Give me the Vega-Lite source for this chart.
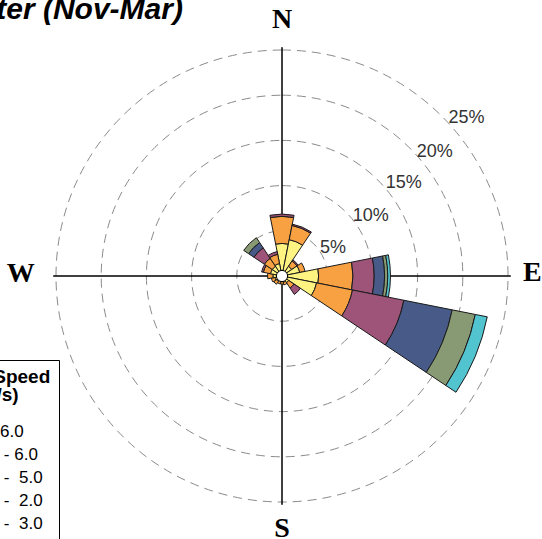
{
  "$schema": "https://vega.github.io/schema/vega-lite/v6.json",
  "autosize": "none",
  "width": 520,
  "height": 526,
  "padding": {"left": 22, "top": 13, "right": 0, "bottom": 0},
  "background": "white",
  "title": {
    "text": "Winter (Nov-Mar)",
    "anchor": "start",
    "frame": "group",
    "font": "Liberation Sans",
    "fontSize": 30,
    "fontStyle": "italic",
    "fontWeight": "bold",
    "color": "black",
    "baseline": "alphabetic",
    "offset": 0,
    "dx": -80.5,
    "dy": 43
  },
  "datasets": {
    "rings": [
      {"a0": 0, "a1": 360, "r": 5},
      {"a0": 0, "a1": 360, "r": 10},
      {"a0": 0, "a1": 360, "r": 15},
      {"a0": 0, "a1": 360, "r": 20},
      {"a0": 0, "a1": 360, "r": 25}
    ],
    "axes": [
      {"a": 0, "r": 25.3},
      {"a": 90, "r": 25.3},
      {"a": 180, "r": 25.3},
      {"a": 270, "r": 25.3}
    ],
    "petals": [
      {"a0": -11.25, "a1": 11.25, "s": "Y", "r0": 0, "r1": 3.6},
      {"a0": -11.25, "a1": 11.25, "s": "O", "r0": 3.6, "r1": 6.6},
      {"a0": -11.25, "a1": 11.25, "s": "P", "r0": 6.6, "r1": 6.85},
      {"a0": 11.25, "a1": 33.75, "s": "Y", "r0": 0, "r1": 4.1},
      {"a0": 11.25, "a1": 33.75, "s": "O", "r0": 4.1, "r1": 5.7},
      {"a0": 11.25, "a1": 33.75, "s": "P", "r0": 5.7, "r1": 5.85},
      {"a0": 33.75, "a1": 56.25, "s": "Y", "r0": 0, "r1": 1.3},
      {"a0": 33.75, "a1": 56.25, "s": "O", "r0": 1.3, "r1": 2.0},
      {"a0": 33.75, "a1": 56.25, "s": "P", "r0": 2.0, "r1": 2.15},
      {"a0": 56.25, "a1": 78.75, "s": "Y", "r0": 0, "r1": 2.0},
      {"a0": 56.25, "a1": 78.75, "s": "O", "r0": 2.0, "r1": 2.6},
      {"a0": 78.75, "a1": 101.25, "s": "Y", "r0": 0, "r1": 4.05},
      {"a0": 78.75, "a1": 101.25, "s": "O", "r0": 4.05, "r1": 7.85},
      {"a0": 78.75, "a1": 101.25, "s": "P", "r0": 7.85, "r1": 10.2},
      {"a0": 78.75, "a1": 101.25, "s": "B", "r0": 10.2, "r1": 11.35},
      {"a0": 78.75, "a1": 101.25, "s": "G", "r0": 11.35, "r1": 11.7},
      {"a0": 78.75, "a1": 101.25, "s": "C", "r0": 11.7, "r1": 12.0},
      {"a0": 101.25, "a1": 123.75, "s": "Y", "r0": 0, "r1": 3.9},
      {"a0": 101.25, "a1": 123.75, "s": "O", "r0": 3.9, "r1": 7.95},
      {"a0": 101.25, "a1": 123.75, "s": "P", "r0": 7.95, "r1": 13.75},
      {"a0": 101.25, "a1": 123.75, "s": "B", "r0": 13.75, "r1": 19.2},
      {"a0": 101.25, "a1": 123.75, "s": "G", "r0": 19.2, "r1": 21.8},
      {"a0": 101.25, "a1": 123.75, "s": "C", "r0": 21.8, "r1": 23.15},
      {"a0": 123.75, "a1": 146.25, "s": "Y", "r0": 0, "r1": 0.9},
      {"a0": 123.75, "a1": 146.25, "s": "O", "r0": 0.9, "r1": 1.6},
      {"a0": 123.75, "a1": 146.25, "s": "P", "r0": 1.6, "r1": 2.45},
      {"a0": 146.25, "a1": 168.75, "s": "Y", "r0": 0, "r1": 0.7},
      {"a0": 146.25, "a1": 168.75, "s": "O", "r0": 0.7, "r1": 1.0},
      {"a0": 168.75, "a1": 191.25, "s": "Y", "r0": 0, "r1": 0.6},
      {"a0": 168.75, "a1": 191.25, "s": "O", "r0": 0.6, "r1": 0.9},
      {"a0": 191.25, "a1": 213.75, "s": "Y", "r0": 0, "r1": 0.6},
      {"a0": 191.25, "a1": 213.75, "s": "O", "r0": 0.6, "r1": 0.9},
      {"a0": 213.75, "a1": 236.25, "s": "Y", "r0": 0, "r1": 0.7},
      {"a0": 213.75, "a1": 236.25, "s": "O", "r0": 0.7, "r1": 1.1},
      {"a0": 236.25, "a1": 258.75, "s": "Y", "r0": 0, "r1": 0.8},
      {"a0": 236.25, "a1": 258.75, "s": "O", "r0": 0.8, "r1": 1.2},
      {"a0": 258.75, "a1": 281.25, "s": "Y", "r0": 0, "r1": 1.0},
      {"a0": 258.75, "a1": 281.25, "s": "O", "r0": 1.0, "r1": 1.6},
      {"a0": 281.25, "a1": 303.75, "s": "Y", "r0": 0, "r1": 1.3},
      {"a0": 281.25, "a1": 303.75, "s": "O", "r0": 1.3, "r1": 2.1},
      {"a0": 281.25, "a1": 303.75, "s": "P", "r0": 2.1, "r1": 2.3},
      {"a0": 303.75, "a1": 326.25, "s": "Y", "r0": 0, "r1": 1.3},
      {"a0": 303.75, "a1": 326.25, "s": "O", "r0": 1.3, "r1": 2.35},
      {"a0": 303.75, "a1": 326.25, "s": "P", "r0": 2.35, "r1": 3.75},
      {"a0": 303.75, "a1": 326.25, "s": "B", "r0": 3.75, "r1": 4.45},
      {"a0": 303.75, "a1": 326.25, "s": "G", "r0": 4.45, "r1": 5.1},
      {"a0": 326.25, "a1": 348.75, "s": "Y", "r0": 0, "r1": 1.4},
      {"a0": 326.25, "a1": 348.75, "s": "O", "r0": 1.4, "r1": 2.45},
      {"a0": 326.25, "a1": 348.75, "s": "P", "r0": 2.45, "r1": 2.75}
    ],
    "calm": [{"a0": 0, "a1": 360, "r": 0.62}],
    "pct": [
      {"t": 51.7, "r": 5.36, "label": "5%"},
      {"t": 48.9, "r": 10.4, "label": "10%"},
      {"t": 47.5, "r": 15.55, "label": "15%"},
      {"t": 46.9, "r": 20.4, "label": "20%"},
      {"t": 46.2, "r": 25.5, "label": "25%"}
    ],
    "compass": [
      {"t": 0, "r": 28.35, "label": "N"},
      {"t": 89.3, "r": 27.7, "label": "E"},
      {"t": 180, "r": 28.0, "label": "S"},
      {"t": 270.4, "r": 28.9, "label": "W"}
    ]
  },
  "layer": [
    {
      "data": {"name": "rings"},
      "mark": {"type": "arc", "filled": false, "stroke": "#8a8a8a", "strokeWidth": 1, "strokeDash": [9, 6]},
      "encoding": {
        "theta": {"field": "a0", "type": "quantitative", "stack": null, "scale": {"type": "linear", "domain": [0, 360], "range": [0, 6.283185307179586], "nice": false, "zero": false}},
        "theta2": {"field": "a1"},
        "radius": {"field": "r", "type": "quantitative", "scale": {"type": "linear", "domain": [0, 25], "range": [0, 226], "nice": false, "zero": true}}
      }
    },
    {
      "data": {"name": "axes"},
      "mark": {"type": "arc", "filled": false, "stroke": "black", "strokeWidth": 1},
      "encoding": {
        "theta": {"field": "a", "type": "quantitative", "stack": null},
        "theta2": {"field": "a"},
        "radius": {"field": "r", "type": "quantitative"}
      }
    },
    {
      "data": {"name": "petals"},
      "mark": {"type": "arc", "stroke": "#1a1a1a", "strokeWidth": 1},
      "encoding": {
        "theta": {"field": "a0", "type": "quantitative", "stack": null},
        "theta2": {"field": "a1"},
        "radius": {"field": "r1", "type": "quantitative", "stack": null},
        "radius2": {"field": "r0"},
        "color": {
          "field": "s",
          "type": "nominal",
          "scale": {"domain": ["C", "G", "B", "P", "O", "Y"], "range": ["#52C4CF", "#889A74", "#485B88", "#9E5479", "#F7A143", "#FFF382"]},
          "legend": {
            "orient": "none",
            "legendX": -88,
            "legendY": 347,
            "title": ["Wind Speed", "(m/s)"],
            "titleFont": "Liberation Sans",
            "titleFontSize": 19,
            "titleFontWeight": "bold",
            "titleColor": "black",
            "titleAlign": "center",
            "titleAnchor": "middle",
            "titleLineHeight": 18,
            "titlePadding": 17,
            "labelFont": "Liberation Sans",
            "labelFontSize": 17,
            "labelColor": "black",
            "labelOffset": 7.5,
            "labelExpr": "{'C': '>= 6.0', 'G': '5.0 - 6.0', 'B': '3.0 -\u00a0 5.0', 'P': '1.0 -\u00a0 2.0', 'O': '2.0 -\u00a0 3.0', 'Y': '0.5 -\u00a0 1.0'}[datum.value]",
            "symbolType": "square",
            "symbolSize": 300,
            "symbolStrokeColor": "black",
            "symbolStrokeWidth": 1,
            "symbolOpacity": 1,
            "rowPadding": 0,
            "strokeColor": "black",
            "fillColor": "white",
            "padding": 8
          }
        }
      }
    },
    {
      "data": {"name": "calm"},
      "mark": {"type": "arc", "fill": "white", "stroke": "black", "strokeWidth": 1},
      "encoding": {
        "theta": {"field": "a0", "type": "quantitative", "stack": null},
        "theta2": {"field": "a1"},
        "radius": {"field": "r", "type": "quantitative"}
      }
    },
    {
      "data": {"name": "pct"},
      "mark": {"type": "text", "font": "Liberation Sans", "fontSize": 18, "fill": "#333333", "align": "left", "baseline": "middle", "dy": 2},
      "encoding": {
        "theta": {"field": "t", "type": "quantitative", "stack": null},
        "radius": {"field": "r", "type": "quantitative"},
        "text": {"field": "label"}
      }
    },
    {
      "data": {"name": "compass"},
      "mark": {"type": "text", "font": "Liberation Serif", "fontSize": 28, "fontWeight": "bold", "fill": "black", "align": "center", "baseline": "middle"},
      "encoding": {
        "theta": {"field": "t", "type": "quantitative", "stack": null},
        "radius": {"field": "r", "type": "quantitative"},
        "text": {"field": "label"}
      }
    }
  ],
  "config": {"view": {"stroke": null}}
}
